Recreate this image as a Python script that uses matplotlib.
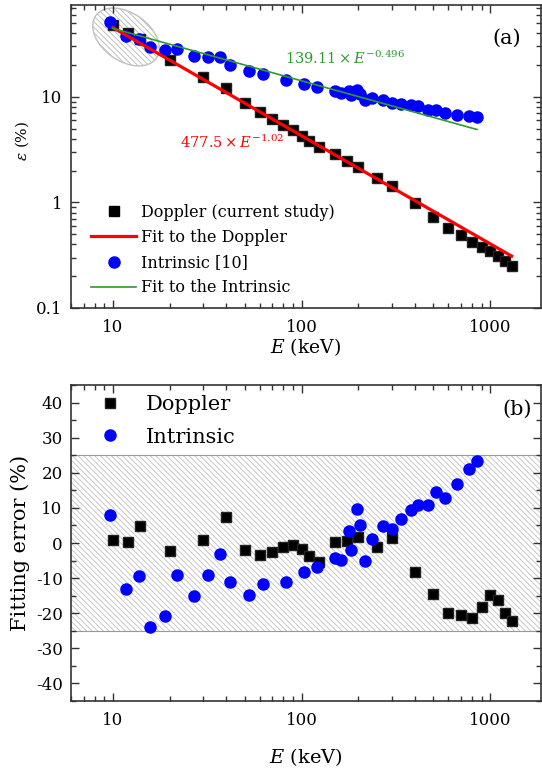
import numpy as np
import matplotlib.pyplot as plt
from matplotlib.patches import Ellipse
from matplotlib.lines import Line2D
from matplotlib.ticker import LogLocator, NullFormatter, AutoMinorLocator

plt.rcParams['font.family'] = ['DejaVu Serif']
plt.rcParams['mathtext.fontset'] = 'dejavuserif'
plt.rcParams['axes.unicode_minus'] = False
plt.rcParams['hatch.linewidth'] = 0.7
plt.rcParams['hatch.color'] = '#c4c4c4'

# Doppler (current study)
doppler_E = [10, 12, 14, 20, 30, 40, 50, 60, 70, 80, 90, 100, 110, 124, 150, 175, 200,
             250, 300, 400, 500, 600, 700, 800, 900, 1000, 1100, 1200, 1300]
doppler_eff = [48, 40, 35.2, 22.1, 15.4, 12.1, 8.7, 7.2, 6.15, 5.4, 4.86, 4.3, 3.85, 3.33,
               2.88, 2.44, 2.18, 1.69, 1.43, 0.98, 0.72, 0.57, 0.49, 0.42, 0.376, 0.35,
               0.313, 0.28, 0.252]
doppler_err = [0.9, 0.3, 4.7, -2.3, 0.9, 7.5, -2.0, -3.4, -2.5, -1.0, -0.5, -1.7, -3.6, -5.4,
               0.4, 0.7, 1.6, -1.0, 1.5, -8.4, -14.6, -20.0, -20.6, -21.5, -18.3, -14.8,
               -16.2, -20.0, -22.3]

# Intrinsic [10]
intr_E = [9.7, 11.8, 13.7, 15.7, 18.8, 21.8, 27, 32, 36.8, 42, 52.7, 62.5, 82.5, 102.5,
          121.5, 151, 161, 177.5, 182, 196.5, 204.5, 217.5, 236, 270, 300, 335, 379, 415,
          467, 519, 575, 670, 776, 852]
intr_eff = [51, 37.3, 35.5, 29.3, 27.9, 28.5, 24.1, 23.6, 23.6, 20.1, 17.4, 16.4, 14.5, 13.2,
            12.3, 11.3, 10.8, 11.4, 10.4, 11.5, 10.6, 9.4, 9.8, 9.3, 8.8, 8.6, 8.3, 8.1,
            7.5, 7.45, 7.0, 6.75, 6.6, 6.5]
intr_err = [8.0, -13.1, -9.3, -24.0, -20.8, -9.1, -15.1, -9.1, -3.0, -11.0, -14.8, -11.6,
            -11.1, -8.2, -6.9, -4.3, -4.8, 3.3, -1.9, 9.6, 5.0, -5.0, 1.1, 4.7, 4.1, 6.9,
            9.4, 10.9, 10.9, 14.5, 12.7, 16.7, 21.0, 23.3]

# power-law fit lines (straight on log-log), end points
fit_doppler_E = [10, 1300]
fit_doppler = [45.2, 0.31]
fit_intr_E = [10, 852]
fit_intr = [44.4, 4.9]

spine_col = '#333333'
green = '#2e9a2e'

fig = plt.figure(figsize=(5.42, 7.69), dpi=100)
ax1 = fig.add_axes([71 / 542, (769 - 308) / 769, 470 / 542, 303 / 769])
ax2 = fig.add_axes([71 / 542, (769 - 701) / 769, 470 / 542, 316 / 769])


def style(ax):
    for s in ax.spines.values():
        s.set_color(spine_col)
        s.set_linewidth(1.2)
    ax.tick_params(which='both', direction='in', top=True, right=True,
                   color=spine_col, width=1, labelsize=12)
    ax.tick_params(which='major', length=6, pad=6)
    ax.tick_params(which='minor', length=3.5)
    ax.tick_params(axis='x', which='major', pad=8)
    ax.set_xscale('log')
    ax.set_xlim(6, 1860)
    ax.set_xticks([10, 100, 1000], ['10', '100', '1000'])
    ax.xaxis.set_minor_locator(LogLocator(base=10, subs=np.arange(2, 10) * 1.0, numticks=20))
    ax.xaxis.set_minor_formatter(NullFormatter())


# ---- (a) efficiency ----
style(ax1)
ax1.set_yscale('log')
ax1.set_ylim(0.1, 74)
ax1.set_yticks([0.1, 1, 10], ['0.1', '1', '10'])
ax1.yaxis.set_minor_locator(LogLocator(base=10, subs=np.arange(2, 10) * 1.0, numticks=20))
ax1.yaxis.set_minor_formatter(NullFormatter())

ell = Ellipse((1.26, 7.32), 0.74, 0.48, angle=-35, transform=fig.dpi_scale_trans,
              facecolor='none', edgecolor='#c0c0c0', lw=1.0, hatch='\\\\\\\\\\\\', zorder=1)
ax1.add_patch(ell)

ax1.plot(fit_doppler_E, fit_doppler, color='red', lw=2.3, zorder=4)
ax1.plot(fit_intr_E, fit_intr, color=green, lw=1.2, zorder=4)
ax1.plot(doppler_E, doppler_eff, 's', color='black', ms=7, mec='#222222', zorder=3)
ax1.plot(intr_E, intr_eff, 'o', color='#0000ff', ms=8, mec='#0000ff', zorder=3)

ax1.text(0.583, 0.825, r'$139.11\times E^{-0.496}$', color=green, fontsize=10.5,
         ha='center', va='center', transform=ax1.transAxes)
ax1.text(0.343, 0.548, r'$477.5\times E^{-1.02}$', color='red', fontsize=10.5,
         ha='center', va='center', transform=ax1.transAxes)
ax1.text(0.928, 0.891, '(a)', fontsize=15, ha='center', va='center', transform=ax1.transAxes)

h1 = [Line2D([], [], ls='none', marker='s', color='black', ms=7),
      Line2D([], [], color='red', lw=2.3),
      Line2D([], [], ls='none', marker='o', color='#0000ff', ms=8),
      Line2D([], [], color=green, lw=1.2)]
ax1.legend(h1, ['Doppler (current study)', 'Fit to the Doppler', 'Intrinsic [10]',
                'Fit to the Intrinsic'],
           loc='lower left', bbox_to_anchor=(0.043, 0.038), frameon=False, fontsize=11.5,
           handlelength=2.8, handletextpad=0.3, labelspacing=0.52, borderpad=0,
           borderaxespad=0)

ax1.set_xlabel(r'$E$ (keV)', fontsize=13.5, labelpad=0)
ax1.set_ylabel(r'$\varepsilon$ (%)', fontsize=11)
ax1.yaxis.set_label_coords(-0.085, 0.55)

# ---- (b) fitting error ----
style(ax2)
ax2.set_ylim(-45, 45)
ax2.set_yticks([-40, -30, -20, -10, 0, 10, 20, 30, 40])
ax2.yaxis.set_minor_locator(AutoMinorLocator(2))
ax2.axhspan(-25, 25, facecolor='none', edgecolor='#c8c8c8', hatch='\\\\\\\\\\\\', lw=0, zorder=0)
ax2.axhline(25, color='#999999', lw=0.8, zorder=1)
ax2.axhline(-25, color='#999999', lw=0.8, zorder=1)

ax2.plot(doppler_E, doppler_err, 's', color='black', ms=7, mec='#222222', zorder=3,
         label='Doppler')
ax2.plot(intr_E, intr_err, 'o', color='#0000ff', ms=8, zorder=3, label='Intrinsic')
ax2.text(0.949, 0.924, '(b)', fontsize=15, ha='center', va='center', transform=ax2.transAxes)
ax2.legend(loc='upper left', bbox_to_anchor=(0.061, 0.968), frameon=False, fontsize=15,
           handlelength=1.0, handletextpad=1.2, labelspacing=0.65, borderpad=0,
           borderaxespad=0)

ax2.set_xlabel(r'$E$ (keV)', fontsize=14, labelpad=12)
ax2.set_ylabel('Fitting error (%)', fontsize=15, labelpad=4)

fig.savefig('out.png', dpi=100)
